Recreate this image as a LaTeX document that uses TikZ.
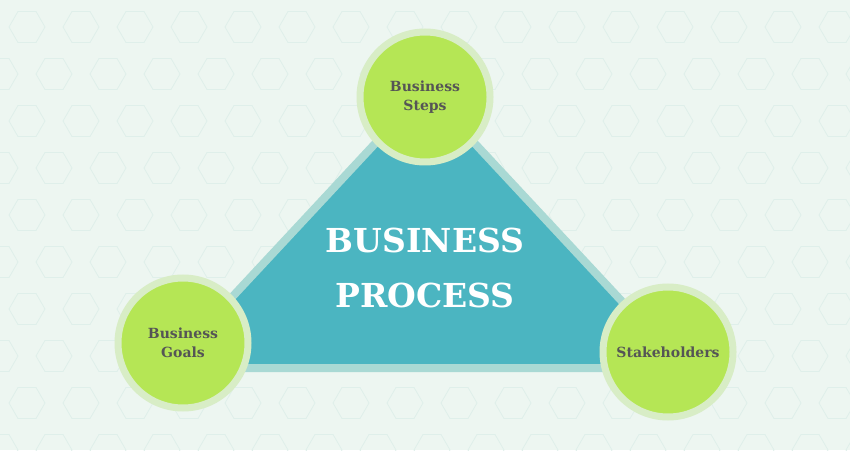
\documentclass[tikz,border=0pt]{standalone}
\usepackage{fontspec}
\setmainfont{DejaVu Serif}
\definecolor{bgmint}{HTML}{EDF6F1}
\definecolor{hexline}{HTML}{DFEFEA}
\definecolor{tealfill}{HTML}{4BB5C1}
\definecolor{tealedge}{HTML}{A9D9D4}
\definecolor{limefill}{HTML}{B5E655}
\definecolor{limering}{HTML}{D8EDC6}
\definecolor{labelgray}{HTML}{555555}
\tikzset{
  topic/.style={circle, fill=limefill, draw=limering, line width=7pt,
    minimum size=130pt, align=center, text=labelgray, font=\bfseries\fontsize{14}{19}\selectfont},
}
\begin{document}
\begin{tikzpicture}[x=1pt,y=1pt]
\fill[bgmint] (0,0) rectangle (850,450);
\useasboundingbox (0,0) rectangle (850,450);
% background hexagons
\begin{scope}
\clip (0,0) rectangle (850,450);
\foreach \i in {0,...,20} {
  \foreach \j in {0,...,10} {
    \draw[hexline, line width=0.8pt] ({\i*54+mod(\j,2)*27},{\j*47}) +(0:18) -- +(60:18) -- +(120:18) -- +(180:18) -- +(240:18) -- +(300:18) -- cycle;
  }
}
\end{scope}
% triangle
\coordinate (apex) at (425,360);
\coordinate (baseL) at (166,82);
\coordinate (baseR) at (684,82);
\draw[fill=tealfill, draw=tealedge, line width=8pt, line join=round] (apex) -- (baseL) -- (baseR) -- cycle;
\node[text=white, align=center, font=\bfseries\fontsize{33}{55}\selectfont] (title) at (425,182) {BUSINESS\\PROCESS};
% circles
\node[topic] (steps) at (425,353) {Business\\Steps};
\node[topic] (goals) at (183,107) {Business\\Goals};
\node[topic] (stake) at (668,98) {Stakeholders};
\end{tikzpicture}
\end{document}
